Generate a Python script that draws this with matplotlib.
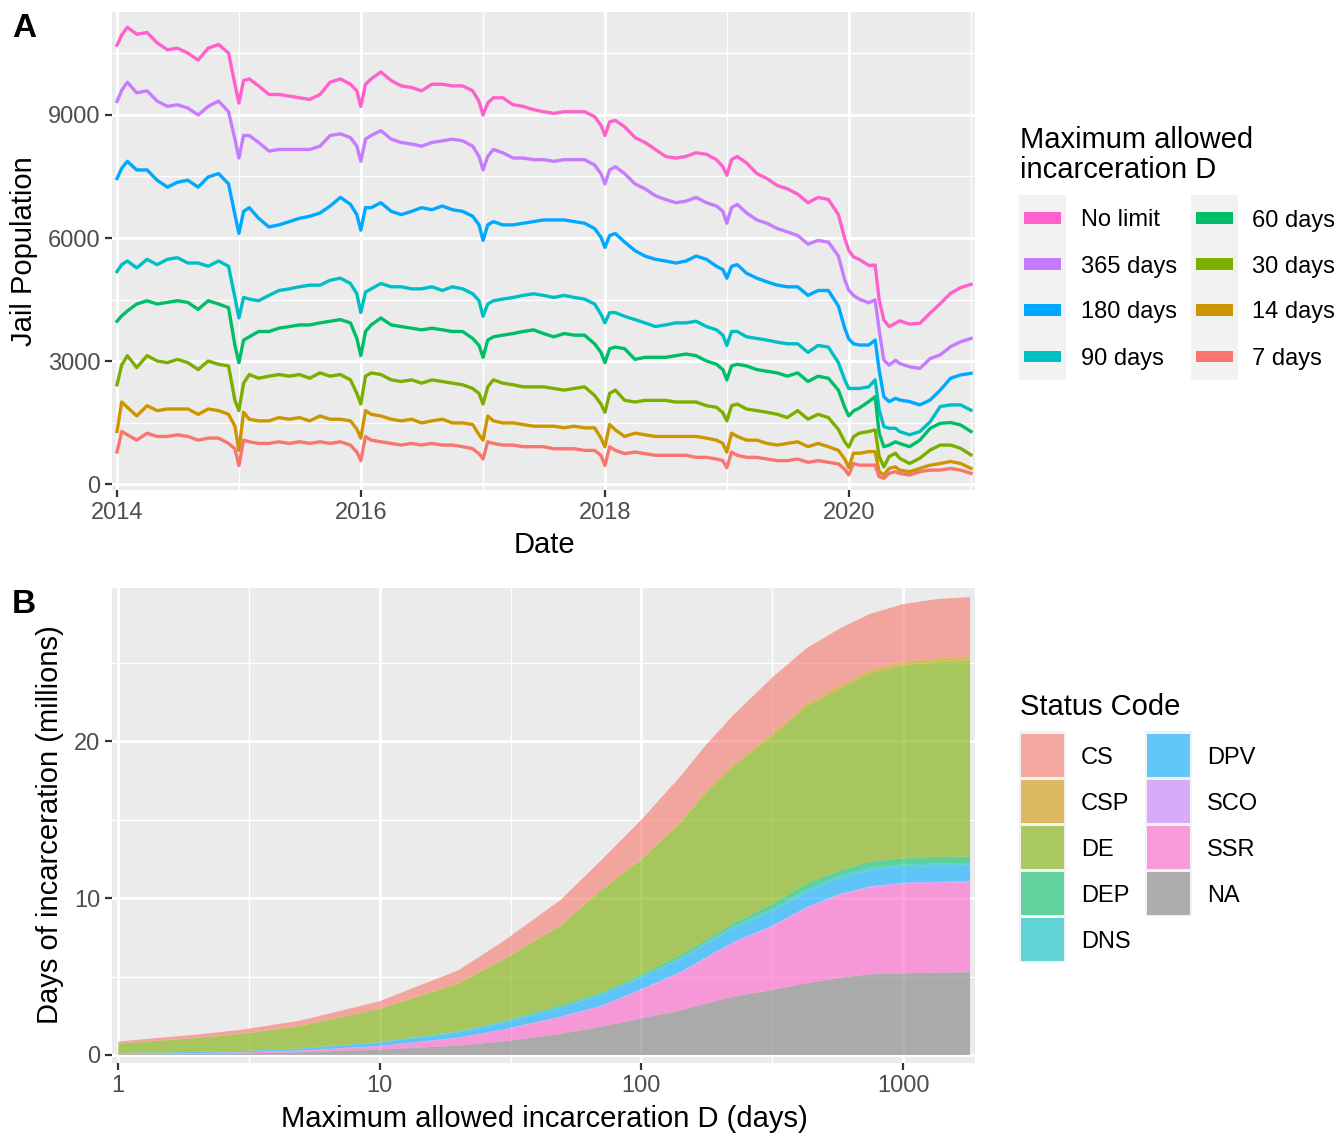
import matplotlib
matplotlib.use("Agg")
import matplotlib.pyplot as plt
import matplotlib.dates as mdates
from matplotlib.patches import Rectangle
from matplotlib.ticker import FixedLocator, NullFormatter
import pandas as pd

plt.rcParams['font.family'] = ['Liberation Sans', 'DejaVu Sans']

W, H = 1344, 1135

# ---- panel A data: jail population by maximum allowed incarceration ----
year_days = ["01-01", "01-15", "02-01", "03-01", "04-01", "05-01", "06-01",
             "07-01", "08-01", "09-01", "10-01", "11-01", "12-01", "12-20"]
days_2020 = ["01-01", "01-15", "02-01", "03-01", "03-20", "04-01", "04-15", "05-01",
             "05-20", "06-01", "07-01", "08-01", "09-01", "10-01", "11-01", "12-01"]
dates = pd.to_datetime([f"{y}-{d}" for y in range(2014, 2020) for d in year_days]
                       + [f"2020-{d}" for d in days_2020] + ["2021-01-01"])

no_limit = [
    10700, 10950, 11140, 10970, 11010, 10760, 10590, 10630, 10510, 10340, 10630, 10720, 10510, 9750,
    9290, 9840, 9880, 9710, 9500, 9500, 9460, 9420, 9380, 9500, 9800, 9880, 9750, 9590,
    9210, 9750, 9880, 10050, 9840, 9710, 9670, 9590, 9750, 9750, 9710, 9710, 9590, 9330,
    9000, 9290, 9420, 9420, 9250, 9210, 9130, 9080, 9040, 9080, 9080, 9080, 8960, 8750,
    8500, 8830, 8870, 8710, 8450, 8330, 8160, 7990, 7950, 7990, 8080, 8040, 7910, 7740,
    7530, 7910, 7990, 7830, 7570, 7450, 7280, 7200, 7070, 6860, 6990, 6940, 6570, 5990,
    5700, 5540, 5480, 5330, 5340, 4500, 4000, 3840, 3920, 3980, 3900, 3920, 4170, 4400, 4650, 4790,
    4870]
d365 = [
    9330, 9600, 9800, 9540, 9590, 9340, 9210, 9250, 9170, 9000, 9210, 9340, 9080, 8410,
    7950, 8500, 8500, 8330, 8120, 8160, 8160, 8160, 8160, 8240, 8500, 8540, 8450, 8240,
    7870, 8410, 8500, 8620, 8410, 8330, 8290, 8240, 8330, 8370, 8410, 8370, 8240, 7990,
    7660, 7990, 8160, 8080, 7950, 7950, 7910, 7910, 7870, 7910, 7910, 7910, 7780, 7570,
    7320, 7660, 7740, 7570, 7320, 7200, 7030, 6940, 6860, 6900, 6990, 6860, 6780, 6650,
    6360, 6740, 6820, 6610, 6440, 6360, 6230, 6150, 6060, 5850, 5940, 5900, 5560, 4980,
    4730, 4600, 4510, 4420, 4490, 3760, 3020, 2900, 3020, 2940, 2860, 2820, 3060, 3150, 3350, 3470,
    3550]
d180 = [
    7450, 7700, 7870, 7660, 7660, 7410, 7240, 7360, 7410, 7240, 7490, 7570, 7320, 6570,
    6110, 6650, 6740, 6480, 6270, 6320, 6400, 6480, 6530, 6610, 6780, 6990, 6820, 6570,
    6190, 6740, 6740, 6860, 6650, 6570, 6650, 6740, 6690, 6780, 6690, 6650, 6530, 6320,
    5940, 6320, 6400, 6320, 6320, 6360, 6400, 6440, 6440, 6440, 6400, 6360, 6230, 6020,
    5770, 6060, 6110, 5900, 5690, 5560, 5480, 5440, 5390, 5440, 5560, 5480, 5310, 5230,
    5020, 5310, 5350, 5140, 5020, 4930, 4850, 4810, 4810, 4600, 4720, 4720, 4340, 3800,
    3540, 3420, 3390, 3390, 3510, 2780, 2130, 2010, 2090, 2050, 2010, 1930, 2050, 2290, 2580, 2660,
    2700]
d90 = [
    5180, 5350, 5440, 5270, 5480, 5350, 5480, 5520, 5390, 5390, 5310, 5440, 5310, 4550,
    4050, 4550, 4510, 4470, 4600, 4720, 4760, 4810, 4850, 4850, 4970, 5020, 4890, 4640,
    4180, 4680, 4760, 4890, 4810, 4810, 4760, 4760, 4810, 4720, 4810, 4760, 4640, 4470,
    4090, 4390, 4470, 4510, 4550, 4600, 4640, 4600, 4550, 4600, 4550, 4510, 4390, 4140,
    3930, 4180, 4180, 4090, 4010, 3930, 3840, 3880, 3930, 3930, 3970, 3840, 3760, 3630,
    3380, 3720, 3720, 3590, 3550, 3510, 3460, 3420, 3420, 3210, 3380, 3340, 2960, 2540,
    2330, 2330, 2330, 2370, 2540, 1810, 1400, 1360, 1360, 1280, 1200, 1280, 1520, 1890, 1930, 1930,
    1800]
d60 = [
    3970, 4100, 4220, 4390, 4470, 4390, 4430, 4470, 4430, 4260, 4470, 4390, 4300, 3380,
    2960, 3510, 3590, 3720, 3720, 3800, 3840, 3880, 3880, 3930, 3970, 4010, 3930, 3550,
    3130, 3720, 3880, 4050, 3880, 3840, 3800, 3760, 3800, 3760, 3720, 3720, 3550, 3380,
    3090, 3510, 3590, 3630, 3670, 3720, 3760, 3670, 3590, 3670, 3630, 3630, 3420, 3210,
    2960, 3300, 3340, 3300, 3040, 3090, 3090, 3090, 3130, 3170, 3130, 3000, 2920, 2790,
    2540, 2880, 2920, 2880, 2790, 2750, 2710, 2630, 2710, 2500, 2630, 2580, 2290, 1870,
    1660, 1780, 1850, 2010, 2130, 1240, 910, 950, 1030, 990, 910, 1070, 1360, 1480, 1500, 1440,
    1280]
d30 = [
    2420, 2900, 3130, 2840, 3130, 3000, 2960, 3040, 2960, 2790, 3000, 2920, 2880, 2040,
    1790, 2460, 2670, 2580, 2630, 2670, 2630, 2670, 2580, 2710, 2630, 2670, 2540, 2210,
    1950, 2630, 2710, 2670, 2540, 2500, 2540, 2460, 2540, 2500, 2460, 2420, 2330, 2210,
    1950, 2370, 2540, 2460, 2420, 2370, 2370, 2370, 2330, 2290, 2330, 2370, 2160, 1950,
    1750, 2210, 2290, 2040, 2000, 2040, 2040, 2040, 2000, 2000, 2000, 1910, 1870, 1740,
    1540, 1910, 1950, 1830, 1790, 1750, 1700, 1620, 1790, 1580, 1700, 1620, 1330, 1030,
    900, 1150, 1240, 1280, 1320, 670, 420, 670, 750, 630, 500, 630, 830, 950, 950, 870,
    710]
d14 = [
    1280, 2000, 1870, 1660, 1910, 1790, 1830, 1830, 1830, 1700, 1830, 1790, 1700, 1410,
    820, 1750, 1580, 1540, 1540, 1620, 1580, 1620, 1540, 1660, 1580, 1580, 1540, 1340,
    1120, 1790, 1700, 1660, 1580, 1540, 1580, 1490, 1540, 1580, 1490, 1490, 1450, 1200,
    1070, 1660, 1540, 1490, 1490, 1450, 1410, 1410, 1410, 1370, 1410, 1370, 1370, 1120,
    910, 1450, 1320, 1160, 1240, 1200, 1160, 1160, 1160, 1160, 1160, 1120, 1070, 990,
    780, 1240, 1160, 1070, 1070, 990, 950, 990, 1030, 910, 990, 910, 820, 610,
    400, 750, 750, 790, 790, 300, 220, 380, 420, 340, 300, 380, 460, 500, 550, 500,
    380]
d7 = [
    780, 1280, 1200, 1070, 1240, 1160, 1160, 1200, 1160, 1070, 1120, 1120, 990, 860,
    450, 1070, 1030, 990, 990, 1030, 990, 1030, 990, 1030, 990, 1030, 950, 780,
    570, 1160, 1070, 1030, 990, 950, 990, 950, 990, 950, 950, 910, 860, 740,
    610, 1030, 990, 950, 950, 910, 910, 910, 860, 860, 860, 820, 820, 700,
    450, 910, 820, 740, 780, 740, 700, 700, 700, 700, 650, 650, 610, 570,
    400, 780, 700, 650, 650, 610, 570, 570, 610, 530, 570, 530, 490, 360,
    220, 500, 460, 460, 460, 180, 140, 260, 300, 260, 220, 300, 340, 340, 380, 340,
    260]

limit_labels = ["No limit", "365 days", "180 days", "90 days",
                "60 days", "30 days", "14 days", "7 days"]
limit_series = [no_limit, d365, d180, d90, d60, d30, d14, d7]
limit_colors = ["#FF61CC", "#C77CFF", "#00A9FF", "#00BFC4",
                "#00BE67", "#7CAE00", "#CD9600", "#F8766D"]

# ---- panel B data: days of incarceration (millions) by status code ----
max_days = [1, 2, 3, 5, 10, 20, 30, 49, 70, 100, 140, 177, 224, 316, 428, 574, 748, 1000, 1343, 1802]
status_na = [0.05, 0.08, 0.10, 0.18, 0.34, 0.60, 0.87, 1.34, 1.80, 2.34, 2.82, 3.29, 3.72, 4.14,
             4.57, 4.92, 5.14, 5.20, 5.25, 5.27]
status_ssr = [0.03, 0.04, 0.06, 0.10, 0.22, 0.48, 0.75, 1.06, 1.28, 1.80, 2.38, 2.87, 3.39, 4.03,
              4.77, 5.27, 5.52, 5.69, 5.70, 5.73]
status_sco = [0.01, 0.01, 0.01, 0.01, 0.02, 0.03, 0.03, 0.04, 0.05, 0.06, 0.07, 0.08, 0.08, 0.08,
              0.08, 0.08, 0.09, 0.09, 0.09, 0.09]
status_dpv = [0.03, 0.06, 0.07, 0.11, 0.21, 0.34, 0.43, 0.58, 0.68, 0.72, 0.80, 0.82, 0.86, 0.88,
              0.93, 0.98, 1.00, 1.00, 1.00, 0.97]
status_dns = [0.005, 0.005, 0.01, 0.01, 0.02, 0.03, 0.04, 0.04, 0.07, 0.08, 0.10, 0.12, 0.13, 0.18,
              0.20, 0.18, 0.18, 0.15, 0.16, 0.18]
status_dep = [0.005, 0.005, 0.01, 0.01, 0.02, 0.03, 0.06, 0.12, 0.11, 0.12, 0.17, 0.18, 0.19, 0.29,
              0.38, 0.33, 0.38, 0.39, 0.42, 0.41]
status_de = [0.59, 0.88, 1.09, 1.43, 2.10, 3.04, 3.92, 5.04, 6.47, 7.32, 8.39, 9.35, 9.98, 10.73,
             11.26, 11.57, 12.00, 12.31, 12.40, 12.49]
status_csp = [0.01, 0.02, 0.02, 0.03, 0.03, 0.04, 0.05, 0.06, 0.07, 0.08, 0.10, 0.13, 0.13, 0.15,
              0.18, 0.20, 0.21, 0.22, 0.25, 0.26]
status_cs = [0.13, 0.20, 0.25, 0.32, 0.47, 0.81, 1.15, 1.59, 1.85, 2.47, 2.87, 2.93, 3.16, 3.56,
             3.55, 3.65, 3.58, 3.67, 3.77, 3.77]

status_labels = ["CS", "CSP", "DE", "DEP", "DNS", "DPV", "SCO", "SSR", "NA"]
status_colors = ["#F8766D", "#CD9600", "#7CAE00", "#00BE67", "#00BFC4",
                 "#00A9FF", "#C77CFF", "#FF61CC", "#7F7F7F"]
status_layers = [status_cs, status_csp, status_de, status_dep, status_dns,
                 status_dpv, status_sco, status_ssr, status_na]


def fx(x):
    return x / W


def fy(y):
    return 1 - y / H


def gg_style(ax):
    ax.set_facecolor('#EBEBEB')
    for s in ax.spines.values():
        s.set_visible(False)
    ax.grid(which='major', color='white', linewidth=2.0)
    ax.grid(which='minor', color='white', linewidth=1.0)
    ax.set_axisbelow(True)
    ax.tick_params(which='major', length=5.3, width=1.6, color='#333333',
                   labelsize=17, labelcolor='#4D4D4D', pad=3)
    ax.tick_params(which='minor', length=0)


fig = plt.figure(figsize=(W / 100, H / 100), dpi=100)

# ---------------- panel A ----------------
axA = fig.add_axes([fx(112), fy(490), (975 - 112) / W, (490 - 12) / H])
gg_style(axA)
for lab, vals, col in zip(limit_labels, limit_series, limit_colors):
    axA.plot(dates, vals, color=col, linewidth=2.4, solid_joinstyle='round')
axA.set_xlim(pd.Timestamp("2013-12-17"), pd.Timestamp("2021-01-13"))
axA.set_ylim(-146, 11512)
axA.set_yticks([0, 3000, 6000, 9000])
axA.set_yticks([1500, 4500, 7500, 10500], minor=True)
axA.set_xticks(pd.to_datetime(["2014-01-01", "2016-01-01", "2018-01-01", "2020-01-01"]))
axA.set_xticks(pd.to_datetime(["2015-01-01", "2017-01-01", "2019-01-01", "2021-01-01"]), minor=True)
axA.xaxis.set_major_formatter(mdates.DateFormatter('%Y'))
axA.xaxis.set_minor_formatter(NullFormatter())

# ---------------- panel B ----------------
axB = fig.add_axes([fx(112), fy(1063), (975 - 112) / W, (1063 - 588) / H])
gg_style(axB)
axB.set_xscale('log')
axB.stackplot(max_days, status_layers[::-1], colors=status_colors[::-1],
              alpha=0.6, linewidth=0)
axB.set_xlim(0.948, 1883)
axB.set_ylim(-0.51, 29.75)
axB.set_yticks([0, 10, 20])
axB.set_yticks([5, 15, 25], minor=True)
axB.xaxis.set_major_locator(FixedLocator([1, 10, 100, 1000]))
axB.xaxis.set_minor_locator(FixedLocator([10 ** 0.5, 10 ** 1.5, 10 ** 2.5]))
axB.set_xticklabels(["1", "10", "100", "1000"])
axB.xaxis.set_minor_formatter(NullFormatter())

# ---------------- titles / panel letters ----------------
fig.text(fx(12), fy(37), "A", fontsize=24, fontweight='bold', va='baseline')
fig.text(fx(12), fy(613), "B", fontsize=24, fontweight='bold', va='baseline')
fig.text(fx(544), fy(553), "Date", fontsize=21, ha='center', va='baseline')
fig.text(fx(544), fy(1127), "Maximum allowed incarceration D (days)",
         fontsize=21, ha='center', va='baseline')
fig.text(fx(24), fy(251), "Jail Population", fontsize=21, rotation=90,
         ha='center', va='center')
fig.text(fx(50), fy(825), "Days of incarceration (millions)", fontsize=21,
         rotation=90, ha='center', va='center')

# ---------------- legend A ----------------
fig.text(fx(1020), fy(148), "Maximum allowed", fontsize=21, va='baseline')
fig.text(fx(1020), fy(178), "incarceration D", fontsize=21, va='baseline')
rows_a = [218, 264, 310, 356]
for col_i, (bx, lx) in enumerate([(1019, 1081), (1191, 1252)]):
    fig.add_artist(Rectangle((fx(bx), fy(380)), 47 / W, (380 - 195) / H,
                             transform=fig.transFigure, facecolor='#F2F2F2',
                             edgecolor='none'))
    for r, ry in enumerate(rows_a):
        k = col_i * 4 + r
        fig.add_artist(Rectangle((fx(bx + 5), fy(ry + 5.5)), 37 / W, 11 / H,
                                 transform=fig.transFigure,
                                 facecolor=limit_colors[k], edgecolor='none'))
        fig.text(fx(lx), fy(ry + 8.5), limit_labels[k], fontsize=17, va='baseline')

# ---------------- legend B ----------------
fig.text(fx(1020), fy(715), "Status Code", fontsize=21, va='baseline')
for col_i, (bx, lx, n) in enumerate([(1019, 1081, 5), (1145, 1207, 4)]):
    fig.add_artist(Rectangle((fx(bx), fy(732 + 46 * n)), 47 / W, (46 * n + 1) / H,
                             transform=fig.transFigure, facecolor='#F2F2F2',
                             edgecolor='none'))
    for r in range(n):
        k = col_i * 5 + r
        top = 734 + 46 * r
        fig.add_artist(Rectangle((fx(bx + 1.5), fy(top + 43)), 43 / W, 43 / H,
                                 transform=fig.transFigure,
                                 facecolor=status_colors[k], alpha=0.6,
                                 edgecolor='none'))
        fig.text(fx(lx), fy(top + 21.5 + 8.5), status_labels[k], fontsize=17,
                 va='baseline')

fig.savefig("out.png", dpi=100)
